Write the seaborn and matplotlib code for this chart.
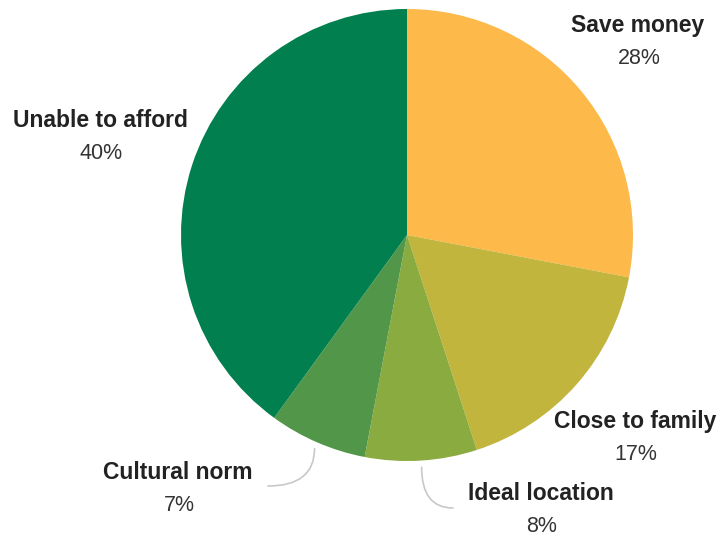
import numpy as np
import matplotlib
matplotlib.use("Agg")
import matplotlib.pyplot as plt
import seaborn as sns

# ===============================
# Data
# ===============================
labels = ["Save money", "Close to family", "Ideal location", "Cultural norm", "Unable to afford"]
shares = [28, 17, 8, 7, 40]
colors = ["#FDB94A", "#C2B53E", "#8AAB3F", "#52964A", "#027F4E"]

# ===============================
# Style
# ===============================
sns.set_theme(style="white")
plt.rcParams["font.family"] = ["Liberation Sans", "DejaVu Sans"]

W, H = 720, 539
fig = plt.figure(figsize=(W / 100, H / 100), dpi=100)
ax = fig.add_axes([0, 0, 1, 1])


def px(x, y):
    # pixel coords (origin top-left) -> data coords
    return x, H - y


cx, cy = px(407, 235)
radius = 226

wedges, _ = ax.pie(shares, colors=colors, startangle=90, counterclock=False,
                   center=(cx, cy), radius=radius,
                   wedgeprops=dict(linewidth=0))
ax.set_xlim(0, W)
ax.set_ylim(0, H)
ax.set_aspect("auto")
ax.axis("off")

# label anchor positions (pixels: x centre, baseline of name)
label_pos = {
    "Save money": (638, 32),
    "Close to family": (635, 428),
    "Ideal location": (541, 500),
    "Cultural norm": (178, 479),
    "Unable to afford": (100, 127),
}
# leader line end points for the small slices
leader_end = {
    "Ideal location": (453, 508),
    "Cultural norm": (268, 486),
}

for w, name, val in zip(wedges, labels, shares):
    x, y = label_pos[name]
    ax.text(*px(x, y), name, ha="center", va="baseline", fontsize=16.5,
            fontweight="bold", color="#222222")
    ax.text(*px(x + 1, y + 32), f"{val}%", ha="center", va="baseline",
            fontsize=15.5, color="#333333")
    if name in leader_end:
        mid = np.deg2rad((w.theta1 + w.theta2) / 2)
        start = (cx + radius * 1.03 * np.cos(mid), cy + radius * 1.03 * np.sin(mid))
        ax.annotate("", xy=start, xytext=px(*leader_end[name]),
                    arrowprops=dict(arrowstyle="-", color="#c8c8c8", lw=1.2,
                                    shrinkA=0, shrinkB=0,
                                    connectionstyle="angle3,angleA=0,angleB=90"))

fig.savefig("out.png", dpi=100, facecolor="white")
